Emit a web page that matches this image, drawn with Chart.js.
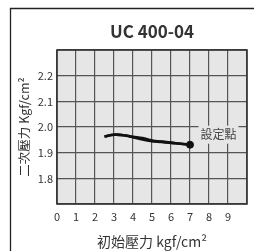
<!DOCTYPE html>
<html>
<head>
<meta charset="utf-8">
<script src="https://cdn.jsdelivr.net/npm/chart.js@4"></script>
<style>
  html, body { margin: 0; padding: 0; background: #fff; }
  #wrap { width: 254px; height: 251px; }
</style>
</head>
<body>
<div id="wrap"><canvas id="c" width="254" height="251"></canvas></div>
<script>
const chartTitle = 'UC 400-04';
const xTitle = '初始壓力 kgf/cm²';
const yTitle = '二次壓力 Kgf/cm²';
const setPointLabel = '設定點';

// rising and falling passes of the curve (they split around 4-5)
const pressureUp = [2.5, 3, 3.5, 4, 4.5, 5, 5.5, 6, 6.5, 7];
const outletUp = [1.963, 1.970, 1.968, 1.962, 1.957, 1.947, 1.943, 1.939, 1.935, 1.931];
const pressureDown = [2.5, 3, 3.5, 4, 4.5, 5, 5.5, 6, 6.5, 7];
const outletDown = [1.963, 1.970, 1.968, 1.960, 1.951, 1.945, 1.942, 1.938, 1.935, 1.931];
const setPoint = { x: 7, y: 1.931 };
const labelAt = { x: 8.5, y: 1.97 };

const xTickLabels = ['0', '1', '2', '3', '4', '5', '6', '7', '8', '9'];
const yTickLabels = ['1.8', '1.9', '2.0', '2.1', '2.2'];

const FONT = "'Noto Sans CJK TC', 'Noto Sans', sans-serif";
const TEXT = '#333';
const PLOT_BG = '#e6e6e6';

const frame = {
  id: 'frame',
  beforeDraw(chart) {
    const { ctx, chartArea: a } = chart;
    ctx.save();
    ctx.fillStyle = PLOT_BG;
    ctx.fillRect(a.left, a.top, a.right - a.left, a.bottom - a.top);
    ctx.restore();
  },
  afterDraw(chart) {
    const { ctx, chartArea: a, scales } = chart;
    ctx.save();
    // outer card border
    ctx.strokeStyle = '#222';
    ctx.lineWidth = 1.3;
    ctx.beginPath();
    ctx.moveTo(10.5, 260);
    ctx.lineTo(10.5, 8.5);
    ctx.lineTo(260, 8.5);
    ctx.stroke();
    // plot border
    ctx.strokeStyle = '#333';
    ctx.lineWidth = 1.6;
    ctx.strokeRect(a.left, a.top, a.right - a.left, a.bottom - a.top);
    // title
    ctx.fillStyle = TEXT;
    ctx.font = 'bold 17px ' + FONT;
    ctx.textAlign = 'center';
    ctx.textBaseline = 'middle';
    ctx.fillText(chartTitle, (a.left + a.right) / 2, 32);
    // set point label
    const lx = scales.x.getPixelForValue(labelAt.x);
    const ly = scales.y.getPixelForValue(labelAt.y);
    ctx.font = '12px ' + FONT;
    const w = ctx.measureText(setPointLabel).width;
    ctx.fillStyle = PLOT_BG;
    ctx.fillRect(lx - w / 2 - 2, ly - 9, w + 4, 18);
    ctx.fillStyle = '#444';
    ctx.fillText(setPointLabel, lx, ly);
    ctx.restore();
  }
};

const toPts = (xs, ys) => xs.map((x, i) => ({ x, y: ys[i] }));

new Chart(document.getElementById('c'), {
  type: 'line',
  data: {
    datasets: [
      {
        data: toPts(pressureUp, outletUp),
        borderColor: '#111',
        borderWidth: 2.6,
        pointRadius: 0,
        tension: 0.4,
      },
      {
        data: toPts(pressureDown, outletDown),
        borderColor: '#111',
        borderWidth: 2.6,
        pointRadius: 0,
        tension: 0.4,
      },
      {
        data: [setPoint],
        borderColor: '#111',
        backgroundColor: '#111',
        pointRadius: 3.5,
        showLine: false,
      },
    ],
  },
  options: {
    responsive: false,
    animation: false,
    layout: { padding: { left: 0, right: 7, top: 50, bottom: 0 } },
    plugins: { legend: { display: false }, tooltip: { enabled: false } },
    scales: {
      x: {
        type: 'linear',
        min: 0,
        max: 10,
        afterFit(s) { s.height = 47; },
        border: { display: false },
        grid: { color: '#555', lineWidth: 1.2, drawTicks: false },
        ticks: {
          stepSize: 1,
          padding: 6,
          color: TEXT,
          font: { family: FONT, size: 11 },
          callback: (v) => xTickLabels[v] ?? '',
          maxRotation: 0,
          autoSkip: false,
        },
        title: {
          display: true,
          text: xTitle,
          color: TEXT,
          font: { family: FONT, size: 14 },
          padding: { top: 0, bottom: 1 },
        },
      },
      y: {
        type: 'linear',
        min: 1.7,
        max: 2.3,
        afterFit(s) { s.width = 57; },
        border: { display: false },
        grid: { color: '#555', lineWidth: 1.2, drawTicks: false },
        ticks: {
          stepSize: 0.1,
          padding: 4,
          color: TEXT,
          font: { family: FONT, size: 11 },
          callback: (v) => {
            const s = Number(v).toFixed(1);
            return yTickLabels.includes(s) ? s : '';
          },
        },
        title: {
          display: true,
          text: yTitle,
          color: TEXT,
          font: { family: FONT, size: 12.5 },
          padding: { top: 17, bottom: 0 },
        },
      },
    },
  },
  plugins: [frame],
});
</script>
</body>
</html>
